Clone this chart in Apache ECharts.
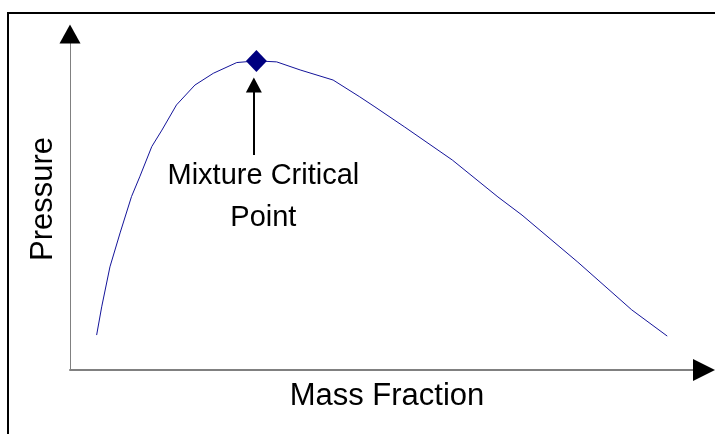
<!DOCTYPE html>
<html>
<head>
<meta charset="utf-8">
<script src="https://cdn.jsdelivr.net/npm/echarts@6/dist/echarts.min.js"></script>
<style>
  html, body { margin: 0; padding: 0; background: #fff; }
  #chart { width: 715px; height: 434px; }
</style>
</head>
<body>
<div id="chart"></div>
<script>
// phase envelope (x = mass fraction 0..1, y = pressure 0..100)
const massFraction = [0.042, 0.050, 0.063, 0.079, 0.097, 0.110, 0.129, 0.145, 0.168, 0.197, 0.226, 0.263, 0.294,
                      0.326, 0.363, 0.415, 0.457, 0.481, 0.528, 0.603, 0.675, 0.713, 0.801, 0.886, 0.942];
const pressure = [10.4, 18.8, 30.7, 40.8, 51.6, 57.5, 66.5, 71.4, 78.9, 84.8, 88.3, 91.5, 92.0,
                  91.7, 89.3, 86.3, 81.3, 78.3, 72.3, 62.5, 51.5, 46.1, 32.1, 17.9, 10.1];
const criticalPoint = [0.294, 92.0];
const pointerFrom = [0.290, 64.0];
const pointerTo = [0.290, 84.8];
const labelAt = [0.305, 51.5];
const labelText = 'Mixture Critical\nPoint';
const xName = 'Mass Fraction';
const yName = 'Pressure';

const font = "'Liberation Sans', Arial, sans-serif";

let curve = massFraction.map(function (x, i) { return [x, pressure[i]]; });

let myChart = echarts.init(document.getElementById('chart'));
myChart.setOption({
  backgroundColor: '#fff',
  animation: false,
  grid: { left: 70, right: 11, top: 34, bottom: 64 },
  xAxis: {
    type: 'value',
    min: 0,
    max: 1,
    name: xName,
    nameLocation: 'middle',
    nameGap: 11,
    nameTextStyle: { fontFamily: font, fontSize: 31, color: '#000' },
    axisLine: { show: true, onZero: false, lineStyle: { color: '#808080', width: 2 } },
    axisTick: { show: false },
    axisLabel: { show: false },
    splitLine: { show: false }
  },
  yAxis: {
    type: 'value',
    min: 0,
    max: 100,
    name: yName,
    nameLocation: 'middle',
    nameGap: 11,
    // left padding nudges the rotated name upwards a little
    nameTextStyle: { fontFamily: font, fontSize: 31, color: '#000', padding: [0, 0, 0, 6] },
    axisLine: { show: true, onZero: false, lineStyle: { color: '#808080', width: 1 } },
    axisTick: { show: false },
    axisLabel: { show: false },
    splitLine: { show: false }
  },
  graphic: [{
    // outer frame
    type: 'rect',
    shape: { x: 8, y: 13, width: 720, height: 440 },
    style: { fill: 'none', stroke: '#000', lineWidth: 2 },
    silent: true
  }],
  series: [
    {
      type: 'line',
      data: curve,
      showSymbol: false,
      smooth: false,
      lineStyle: { color: '#14149a', width: 1 },
      markLine: {
        silent: true,
        symbol: ['none', 'triangle'],
        symbolSize: [16, 15],
        lineStyle: { color: '#000', width: 2, type: 'solid' },
        label: { show: false },
        data: [[{ coord: pointerFrom }, { coord: pointerTo }]]
      }
    },
    {
      // critical point
      type: 'scatter',
      data: [criticalPoint],
      symbol: 'diamond',
      symbolSize: [21, 22],
      itemStyle: { color: '#000080', opacity: 1 },
      z: 5
    },
    {
      // axis arrow heads
      type: 'scatter',
      clip: false,
      silent: true,
      data: [
        { value: [1, 0], symbolRotate: -90, symbolSize: [22, 22] },
        { value: [0, 100], symbolRotate: 0, symbolSize: [21, 19] }
      ],
      symbol: 'triangle',
      itemStyle: { color: '#000', opacity: 1 },
      z: 6
    },
    {
      // annotation text
      type: 'scatter',
      silent: true,
      data: [labelAt],
      symbolSize: 0,
      itemStyle: { opacity: 1 },
      label: {
        show: true,
        position: 'inside',
        formatter: labelText,
        fontFamily: font,
        fontSize: 29,
        lineHeight: 42,
        color: '#000',
        align: 'center'
      }
    }
  ]
});
</script>
</body>
</html>
